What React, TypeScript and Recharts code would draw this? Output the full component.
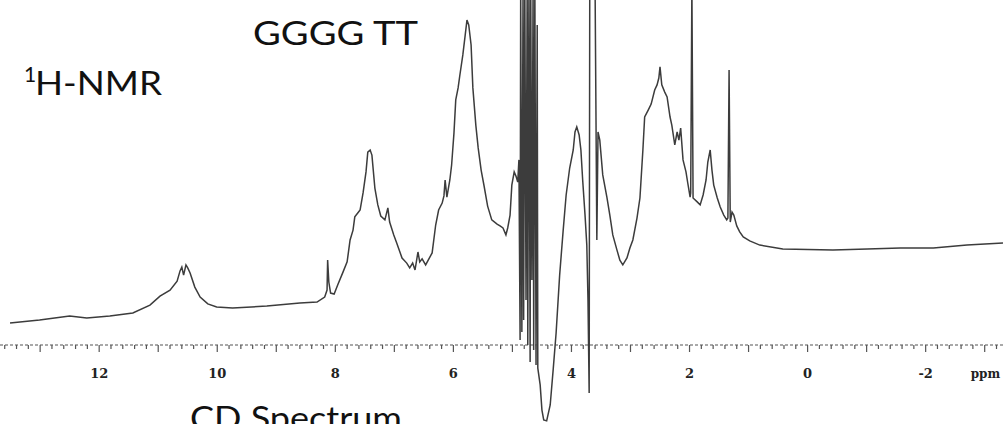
import React from 'react';
import { LineChart, Line, XAxis, YAxis, ReferenceLine } from 'recharts';

// chemical shift (ppm)
const shifts = [
  13.51, 13.01, 12.5, 12.21, 11.82, 11.43, 11.14, 10.97, 10.8, 10.68,
  10.63, 10.6, 10.57, 10.53, 10.5, 10.46, 10.38, 10.29, 10.16, 10.01,
  9.74, 9.16, 8.6, 8.31, 8.18, 8.14, 8.13, 8.11, 8.08, 8.02,
  7.96, 7.87, 7.8, 7.75, 7.7, 7.67, 7.62, 7.58, 7.53, 7.48,
  7.45, 7.41, 7.38, 7.33, 7.28, 7.23, 7.16, 7.11, 7.08, 7.01,
  6.96, 6.87, 6.79, 6.74, 6.69, 6.65, 6.6, 6.57, 6.53, 6.47,
  6.36, 6.3, 6.25, 6.19, 6.16, 6.14, 6.11, 6.06, 6.03, 5.99,
  5.96, 5.92, 5.89, 5.84, 5.8, 5.77, 5.74, 5.7, 5.67, 5.62,
  5.58, 5.53, 5.48, 5.42, 5.35, 5.26, 5.21, 5.16, 5.11, 5.08,
  5.04, 5.01, 4.97, 4.94, 4.91, 4.89, 4.87, 4.86, 4.84, 4.82,
  4.81, 4.79, 4.77, 4.75, 4.74, 4.72, 4.7, 4.69, 4.67, 4.65,
  4.64, 4.62, 4.6, 4.58, 4.57, 4.53, 4.5, 4.47, 4.42, 4.36,
  4.31, 4.26, 4.2, 4.14, 4.09, 4.03, 3.97, 3.94, 3.91, 3.87,
  3.84, 3.81, 3.77, 3.74, 3.72, 3.7, 3.69, 3.6, 3.57, 3.55,
  3.52, 3.47, 3.4, 3.35, 3.3, 3.23, 3.18, 3.13, 3.06, 3.01,
  2.96, 2.89, 2.84, 2.79, 2.76, 2.7, 2.65, 2.59, 2.55, 2.52,
  2.5, 2.47, 2.42, 2.38, 2.33, 2.3, 2.25, 2.21, 2.18, 2.15,
  2.11, 2.06, 2.03, 1.99, 1.98, 1.96, 1.94, 1.87, 1.82, 1.77,
  1.72, 1.69, 1.65, 1.62, 1.59, 1.53, 1.48, 1.42, 1.37, 1.35,
  1.33, 1.31, 1.28, 1.25, 1.2, 1.15, 1.09, 0.98, 0.81, 0.42,
  -0.43, -1.01, -1.57, -2.13, -2.7, -3.31,
];

// signal intensity (arbitrary units)
const intensity = [
  7.3, 8.3, 9.7, 9.0, 9.7, 10.7, 13.3, 16.3, 18.3, 21.3,
  24.7, 26.0, 23.3, 26.7, 25.7, 24.0, 19.3, 16.0, 13.7, 12.7,
  12.3, 13.0, 14.0, 14.3, 16.0, 18.3, 28.3, 21.0, 17.3, 17.0,
  20.0, 24.3, 27.7, 35.0, 38.3, 42.7, 44.0, 45.0, 50.7, 57.7,
  64.3, 65.0, 63.3, 52.3, 46.7, 43.0, 41.7, 45.7, 41.0, 36.7,
  34.0, 29.0, 27.3, 25.7, 27.3, 25.0, 31.0, 27.7, 28.7, 26.7,
  30.7, 40.0, 45.0, 47.3, 49.7, 55.0, 49.3, 55.0, 60.0, 70.7,
  81.7, 85.7, 90.0, 96.7, 103.3, 108.3, 106.7, 100.0, 85.7, 73.3,
  65.7, 58.3, 53.0, 46.3, 41.7, 40.3, 39.7, 39.0, 36.7, 39.0,
  43.3, 53.3, 57.7, 56.3, 54.3, 61.7, 1.7, 120, 4.3, 120,
  8.3, 120, 15.0, 120, 0.0, 120, -5.7, 120, 21.7, 120,
  -1.7, 120, -6.7, 106.7, -7.7, -13.3, -21.7, -25.0, -25.3, -20.0,
  -8.3, 4.0, 23.3, 38.3, 50.0, 59.0, 65.0, 71.0, 72.7, 70.0,
  65.0, 55.0, 43.3, 33.3, 15.0, -16.0, 120, 120, 35.0, 71.0,
  68.3, 56.7, 49.3, 43.3, 36.7, 31.7, 28.3, 26.7, 29.0, 32.3,
  35.0, 42.3, 49.0, 65.0, 76.0, 78.3, 80.3, 85.0, 86.7, 89.0,
  92.7, 86.7, 84.3, 82.7, 76.0, 73.3, 66.7, 71.0, 68.3, 72.3,
  61.7, 57.7, 54.0, 49.3, 50.7, 120, 49.0, 47.7, 46.7, 50.0,
  55.0, 61.0, 65.0, 58.3, 53.3, 49.0, 46.0, 43.3, 41.7, 42.3,
  91.7, 41.0, 44.3, 43.3, 39.7, 37.7, 36.0, 34.7, 33.3, 32.0,
  31.7, 32.0, 32.3, 32.3, 33.3, 34.0,
];

// scale: labelled major ticks and the unit label at the end of the scale
const tickLabels: Record<string, string> = {
  '12': '12',
  '10': '10',
  '8': '8',
  '6': '6',
  '4': '4',
  '2': '2',
  '0': '0',
  '-2': '-2',
  '-3': 'ppm',
};
const minorStep = 0.2;
const tickStart = 13.6;
const tickCount = 85;
const axisTicks = Array.from({ length: tickCount }, (_, i) => +(tickStart - i * minorStep).toFixed(1));

const data = shifts.map((p, i) => ({ ppm: p, intensity: intensity[i] }));

const AXIS_Y = 345;

function AxisTick(props: any) {
  const { x, payload } = props;
  const v = Number(payload.value);
  const major = Math.abs(v - Math.round(v)) < 0.001;
  const label = major ? tickLabels[String(Math.round(v))] : undefined;
  const isUnit = label === 'ppm';
  return (
    <g>
      <line x1={x} x2={x} y1={AXIS_Y} y2={major ? AXIS_Y + 7 : AXIS_Y + 4} stroke="#555" strokeWidth={1.2} />
      {label && (
        <text
          x={isUnit ? x - 14 : x}
          y={378}
          textAnchor={isUnit ? 'start' : 'middle'}
          fontFamily="'DejaVu Serif', serif"
          fontWeight="bold"
          fontSize={isUnit ? 12 : 13}
          fill="#222"
        >
          {label}
        </text>
      )}
    </g>
  );
}

export default function App() {
  return (
    <div
      style={{
        position: 'absolute',
        left: 0,
        top: 0,
        width: 1003,
        height: 424,
        overflow: 'hidden',
        background: '#fff',
      }}
    >
      <LineChart width={1003} height={424} data={data} margin={{ top: 0, right: 0, bottom: 0, left: 0 }}>
        <XAxis
          type="number"
          dataKey="ppm"
          domain={[-3.31, 13.68]}
          reversed
          allowDataOverflow
          ticks={axisTicks}
          interval={0}
          tick={<AxisTick />}
          tickLine={false}
          axisLine={false}
          height={1}
        />
        <YAxis type="number" hide domain={[-26, 115]} allowDataOverflow />
        <ReferenceLine y={0} stroke="#555" strokeWidth={1.2} strokeDasharray="3 2" />
        <Line
          type="linear"
          dataKey="intensity"
          stroke="#3c3c3c"
          strokeWidth={1.5}
          dot={false}
          activeDot={false}
          isAnimationActive={false}
        />
      </LineChart>
      <svg
        width={1003}
        height={424}
        style={{ position: 'absolute', left: 0, top: 0, pointerEvents: 'none' }}
      >
        <text x={253} y={45} fontFamily="Lato, 'Noto Sans', sans-serif" fontSize={33} fill="#111" textLength={165} lengthAdjust="spacingAndGlyphs">
          GGGG TT
        </text>
        <text x={24} y={82} fontFamily="Lato, 'Noto Sans', sans-serif" fontSize={21} fill="#111">
          1
        </text>
        <text x={35} y={95} fontFamily="Lato, 'Noto Sans', sans-serif" fontSize={33} fill="#111" textLength={127} lengthAdjust="spacingAndGlyphs">
          H-NMR
        </text>
        <text x={190} y={430} fontFamily="Lato, 'Noto Sans', sans-serif" fontSize={33} fill="#111" textLength={212} lengthAdjust="spacingAndGlyphs">
          CD Spectrum
        </text>
      </svg>
    </div>
  );
}
